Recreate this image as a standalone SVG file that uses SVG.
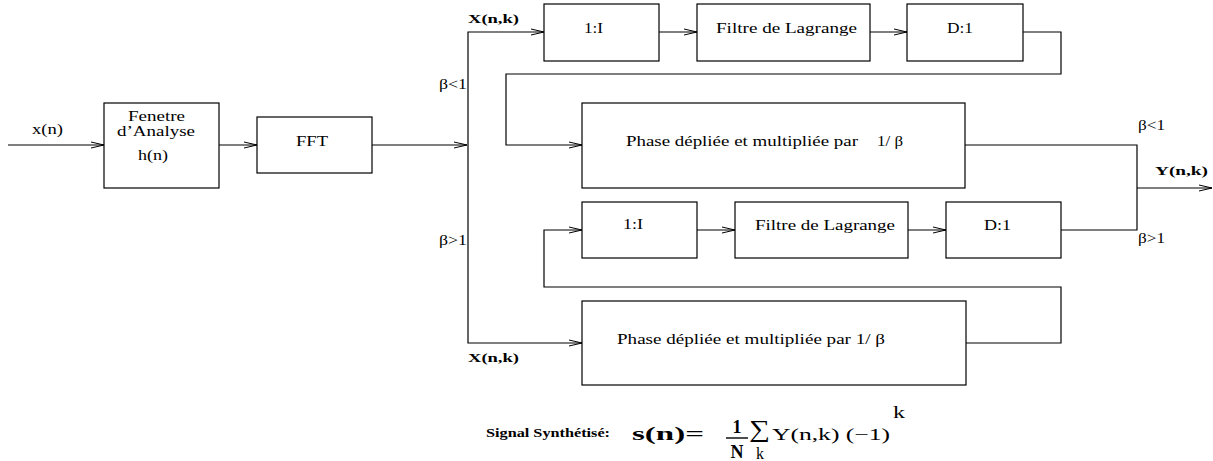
<svg xmlns="http://www.w3.org/2000/svg" width="1213" height="461" viewBox="0 0 1213 461">
<defs>
<marker id="arr" markerUnits="userSpaceOnUse" markerWidth="16" markerHeight="10" viewBox="0 0 16 10" refX="14" refY="5" orient="auto">
<path d="M1,2 L14,5 L1,8" fill="none" stroke="#000" stroke-width="1"/>
</marker>
</defs>
<style>
rect{fill:#fff;stroke:#000;stroke-width:1.2}
.c path{fill:none;stroke:#000;stroke-width:1.2}
.a{marker-end:url(#arr)}
text{font-family:"Liberation Serif","Times New Roman",serif;font-size:14px;fill:#000}
.b{font-weight:bold;font-size:13px}
</style>
<rect x="0" y="0" width="1213" height="461" style="fill:#fff;stroke:none"/>
<g class="c" id="connectors">
<path class="a" d="M8,145 H104"/>
<path class="a" d="M219,145 H257"/>
<path class="a" d="M372,145 H467"/>
<path class="a" d="M468,145 V32 H544"/>
<path class="a" d="M468,145 V343 H582"/>
<path class="a" d="M659,32 H697"/>
<path class="a" d="M870,32 H907"/>
<path class="a" d="M1023,32 H1061 V74 H506 V145 H582"/>
<path d="M965,145 H1137 V230 H1061"/>
<path class="a" d="M1137,188 H1212"/>
<path class="a" d="M697,230 H735"/>
<path class="a" d="M908,230 H946"/>
<path class="a" d="M966,343 H1061 V287 H544 V230 H582"/>
</g>
<g id="fenetre"><rect x="104" y="103" width="115" height="85"/>
<text x="128" y="121" textLength="57" lengthAdjust="spacingAndGlyphs">Fenetre</text>
<text x="117" y="136" textLength="78" lengthAdjust="spacingAndGlyphs">d’Analyse</text>
<text x="138" y="160" textLength="30" lengthAdjust="spacingAndGlyphs">h(n)</text></g>
<g id="fft"><rect x="257" y="117" width="115" height="56"/>
<text x="296" y="146" textLength="32" lengthAdjust="spacingAndGlyphs">FFT</text></g>
<g id="interp1"><rect x="544" y="4" width="115" height="57"/>
<text x="584" y="33" textLength="19" lengthAdjust="spacingAndGlyphs">1:I</text></g>
<g id="filtre1"><rect x="697" y="4" width="173" height="57"/>
<text x="716" y="33" textLength="141" lengthAdjust="spacingAndGlyphs">Filtre de Lagrange</text></g>
<g id="decim1"><rect x="907" y="4" width="116" height="57"/>
<text x="947" y="33" textLength="26" lengthAdjust="spacingAndGlyphs">D:1</text></g>
<g id="phase1"><rect x="582" y="103" width="383" height="85"/>
<text x="626" y="146" textLength="232" lengthAdjust="spacingAndGlyphs">Phase dépliée et multipliée par</text>
<text x="877" y="146" textLength="26" lengthAdjust="spacingAndGlyphs">1/ β</text></g>
<g id="interp2"><rect x="582" y="202" width="115" height="56"/>
<text x="623" y="229" textLength="20" lengthAdjust="spacingAndGlyphs">1:I</text></g>
<g id="filtre2"><rect x="735" y="202" width="173" height="56"/>
<text x="755" y="230" textLength="140" lengthAdjust="spacingAndGlyphs">Filtre de Lagrange</text></g>
<g id="decim2"><rect x="946" y="202" width="115" height="56"/>
<text x="984" y="230" textLength="27" lengthAdjust="spacingAndGlyphs">D:1</text></g>
<g id="phase2"><rect x="582" y="301" width="384" height="84"/>
<text x="617" y="344" textLength="268" lengthAdjust="spacingAndGlyphs">Phase dépliée et multipliée par 1/ β</text></g>
<g id="labels">
<text x="32" y="134" textLength="31" lengthAdjust="spacingAndGlyphs">x(n)</text>
<text x="439" y="89" textLength="28" lengthAdjust="spacingAndGlyphs">β&lt;1</text>
<text x="439" y="245" textLength="28" lengthAdjust="spacingAndGlyphs">β&gt;1</text>
<text class="b" x="468" y="23" textLength="51" lengthAdjust="spacingAndGlyphs">X(n,k)</text>
<text class="b" x="468" y="362" textLength="51" lengthAdjust="spacingAndGlyphs">X(n,k)</text>
<text x="1138" y="130" textLength="27" lengthAdjust="spacingAndGlyphs">β&lt;1</text>
<text x="1138" y="243" textLength="27" lengthAdjust="spacingAndGlyphs">β&gt;1</text>
<text class="b" x="1155" y="175" textLength="53" lengthAdjust="spacingAndGlyphs">Y(n,k)</text>
</g>
<g id="formula">
<text class="b" style="font-size:12px" x="486" y="437" textLength="124" lengthAdjust="spacingAndGlyphs">Signal Synthétisé:</text>
<text style="font-weight:bold;font-size:18px" x="632" y="440" textLength="72" lengthAdjust="spacingAndGlyphs">s(n)=</text>
<text style="font-weight:bold;font-size:18px" x="737" y="433" text-anchor="middle">1</text>
<path d="M726,438 H748" stroke="#000" stroke-width="1.4"/>
<text style="font-weight:bold;font-size:18px" x="737" y="458" text-anchor="middle">N</text>
<text style="font-size:24px" x="749" y="437" textLength="21" lengthAdjust="spacingAndGlyphs">∑</text>
<text style="font-size:16px" x="760" y="459" text-anchor="middle">k</text>
<text style="font-size:17px" x="772" y="440" textLength="118" lengthAdjust="spacingAndGlyphs">Y(n,k) (−1)</text>
<text style="font-size:17px" x="893" y="418" textLength="12" lengthAdjust="spacingAndGlyphs">k</text>
</g>
</svg>
